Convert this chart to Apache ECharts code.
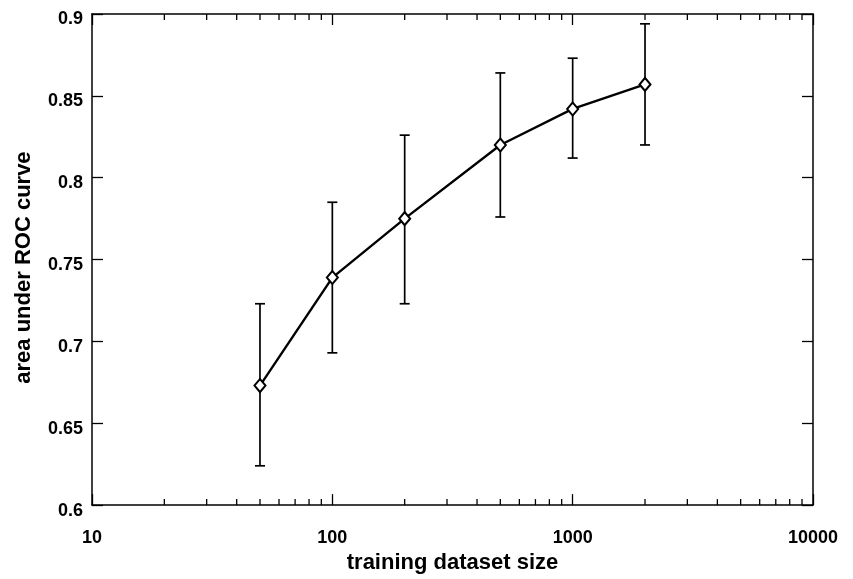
<!DOCTYPE html>
<html lang="en">
<head>
    <meta charset="utf-8">
    <title>AUC vs training size</title>
    <script src="https://cdn.jsdelivr.net/npm/echarts@6/dist/echarts.min.js"></script>
    <style>
        html, body { margin: 0; padding: 0; background: #fff; }
        #main { width: 853px; height: 579px; }
    </style>
</head>
<body>
    <div id="main"></div>
    <script>
    var chart = echarts.init(document.getElementById('main'));

    // data
    var sizes = [50, 100, 200, 500, 1000, 2000];
    var auc = [0.673, 0.739, 0.775, 0.820, 0.842, 0.857];
    var aucLow = [0.624, 0.693, 0.723, 0.776, 0.812, 0.820];
    var aucHigh = [0.723, 0.785, 0.826, 0.864, 0.873, 0.894];
    var minorTicks = [20, 30, 40, 50, 60, 70, 80, 90,
        200, 300, 400, 500, 600, 700, 800, 900,
        2000, 3000, 4000, 5000, 6000, 7000, 8000, 9000];

    var font = 'Liberation Sans';
    var black = '#000';

    var lineData = sizes.map(function (s, i) { return [s, auc[i]]; });
    var barData = sizes.map(function (s, i) { return [s, aucLow[i], aucHigh[i]]; });

    function renderErrorBar(params, api) {
        var x = api.value(0);
        var lo = api.coord([x, api.value(1)]);
        var hi = api.coord([x, api.value(2)]);
        var half = 5;
        var style = { stroke: black, lineWidth: 1.7 };
        return {
            type: 'group',
            children: [
                { type: 'line', shape: { x1: lo[0], y1: lo[1], x2: hi[0], y2: hi[1] }, style: style },
                { type: 'line', shape: { x1: lo[0] - half, y1: lo[1], x2: lo[0] + half, y2: lo[1] }, style: style },
                { type: 'line', shape: { x1: hi[0] - half, y1: hi[1], x2: hi[0] + half, y2: hi[1] }, style: style }
            ]
        };
    }

    function renderMinorTick(params, api) {
        var v = api.value(0);
        var bot = api.coord([v, 0.6]);
        var top = api.coord([v, 0.9]);
        var len = 6;
        var style = { stroke: black, lineWidth: 1.3 };
        return {
            type: 'group',
            children: [
                { type: 'line', shape: { x1: bot[0], y1: bot[1], x2: bot[0], y2: bot[1] - len }, style: style },
                { type: 'line', shape: { x1: top[0], y1: top[1], x2: top[0], y2: top[1] + len }, style: style }
            ]
        };
    }

    var labelFont = { color: black, fontFamily: font, fontWeight: 'bold', fontSize: 18 };
    var nameFont = { color: black, fontFamily: font, fontWeight: 'bold', fontSize: 22 };
    var axisLineStyle = { show: true, lineStyle: { color: black, width: 1.5 } };
    var majorTick = { show: true, inside: true, length: 11, lineStyle: { color: black, width: 1.3 } };

    var option = {
        backgroundColor: '#fff',
        animation: false,
        grid: { left: 92, right: 40, top: 14, bottom: 70 },
        xAxis: [{
            type: 'log',
            logBase: 10,
            min: 10,
            max: 10000,
            position: 'bottom',
            name: 'training dataset size',
            nameLocation: 'middle',
            nameGap: 46,
            nameTextStyle: nameFont,
            axisLine: axisLineStyle,
            axisTick: majorTick,
            axisLabel: Object.assign({
                margin: 24,
                formatter: function (v) { return String(Math.round(v)); }
            }, labelFont),
            splitLine: { show: false }
        }, {
            type: 'log',
            logBase: 10,
            min: 10,
            max: 10000,
            position: 'top',
            axisLine: axisLineStyle,
            axisTick: majorTick,
            axisLabel: { show: false },
            splitLine: { show: false }
        }],
        yAxis: [{
            type: 'value',
            min: 0.6,
            max: 0.9,
            interval: 0.05,
            position: 'left',
            name: 'area under ROC curve',
            nameLocation: 'middle',
            nameGap: 57,
            nameTextStyle: Object.assign({ padding: [0, 16, 0, 0] }, nameFont),
            axisLine: axisLineStyle,
            axisTick: majorTick,
            axisLabel: Object.assign({ margin: 9, verticalAlign: 'top', lineHeight: 11 }, labelFont),
            splitLine: { show: false }
        }, {
            type: 'value',
            min: 0.6,
            max: 0.9,
            interval: 0.05,
            position: 'right',
            axisLine: axisLineStyle,
            axisTick: majorTick,
            axisLabel: { show: false },
            splitLine: { show: false }
        }],
        series: [{
            type: 'custom',
            name: 'minor ticks',
            renderItem: renderMinorTick,
            data: minorTicks.map(function (v) { return [v]; }),
            encode: { x: 0 },
            silent: true,
            z: 1
        }, {
            type: 'custom',
            name: 'error',
            renderItem: renderErrorBar,
            data: barData,
            encode: { x: 0, y: [1, 2] },
            z: 2
        }, {
            type: 'line',
            name: 'AUC',
            data: lineData,
            symbol: 'diamond',
            symbolSize: [11, 13],
            showSymbol: true,
            lineStyle: { color: black, width: 2.4 },
            itemStyle: { color: '#fff', borderColor: black, borderWidth: 2 },
            z: 3
        }]
    };

    chart.setOption(option);
    </script>
</body>
</html>
